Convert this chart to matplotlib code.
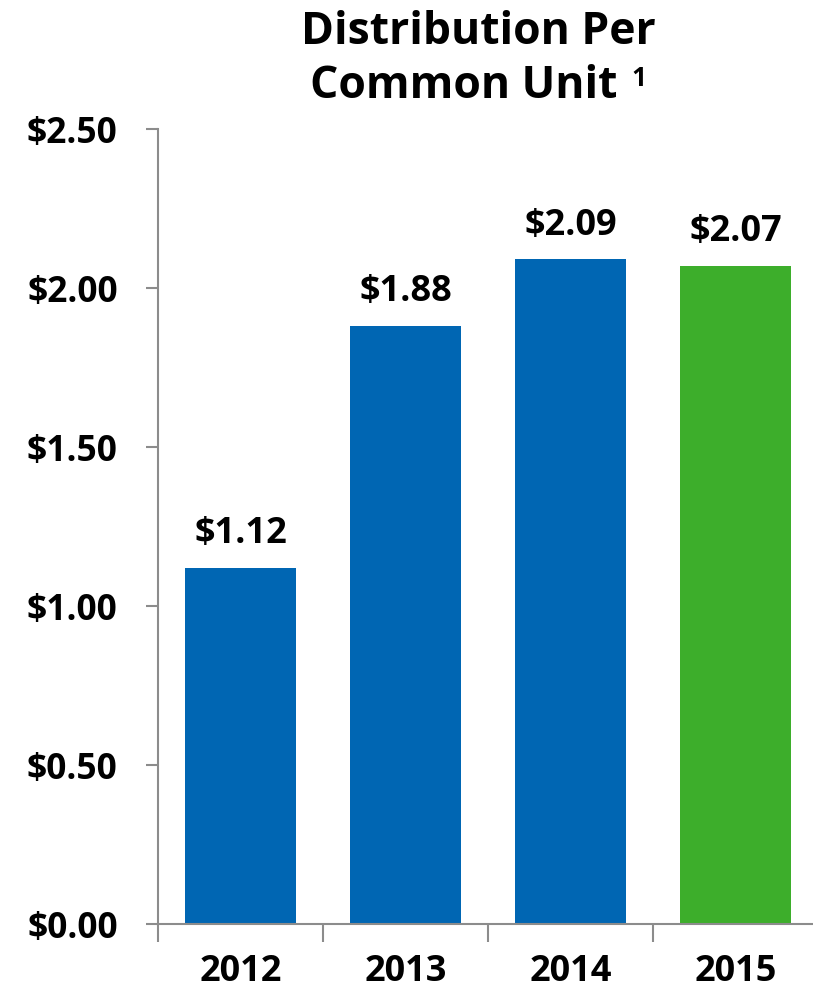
import matplotlib.pyplot as plt
import numpy as np

# datos del grafico
years = ['2012', '2013', '2014', '2015']
values = [1.12, 1.88, 2.09, 2.07]
bar_colors = ['#0066B3', '#0066B3', '#0066B3', '#3DAE2B']
y_ticks = [0.0, 0.5, 1.0, 1.5, 2.0, 2.5]

plt.rcParams['font.family'] = ['Open Sans', 'DejaVu Sans']
plt.rcParams['font.weight'] = 'bold'

W, H = 813, 995
fig = plt.figure(figsize=(W / 100, H / 100), dpi=100)
ax = fig.add_axes([158 / W, (H - 925) / H, 660 / W, 795 / H])

x = np.arange(len(years))
bars = ax.bar(x, values, width=0.667, color=bar_colors, zorder=2)

for b, v in zip(bars, values):
    ax.annotate(f'${v:.2f}', (b.get_x() + b.get_width() / 2, v),
                xytext=(0, 12), textcoords='offset points',
                ha='center', va='bottom', fontsize=26, fontweight='bold')

ax.set_xlim(-0.5, 3.5)
ax.set_ylim(0, 2.5)
ax.set_yticks(y_ticks)
ax.set_yticklabels([f'${t:.2f}' for t in y_ticks])

# marcas en los limites de categoria, etiquetas en el centro
ax.set_xticks(np.arange(-0.5, 4.0, 1.0))
ax.set_xticklabels([])
ax.set_xticks(x, minor=True)
ax.set_xticklabels(years, minor=True)

gray = '#8C8C8C'
for s in ['top', 'right']:
    ax.spines[s].set_visible(False)
for s in ['left', 'bottom']:
    ax.spines[s].set_color(gray)
    ax.spines[s].set_linewidth(1.5)

ax.tick_params(axis='y', direction='out', length=9, width=1.5, color=gray,
               labelsize=25.5, pad=20)
ax.tick_params(axis='x', which='major', direction='out', length=13, width=1.5,
               color=gray)
ax.tick_params(axis='x', which='minor', length=0, labelsize=26, pad=21)

fig.text(478 / W, 1 - 32 / H, 'Distribution Per', ha='center', va='center',
         fontsize=32, fontweight='bold')
fig.text(617 / W, 1 - 87 / H, 'Common Unit', ha='right', va='center',
         fontsize=32, fontweight='bold')
fig.text(639 / W, 1 - 78 / H, '1', ha='center', va='center',
         fontsize=19, fontweight='bold')

fig.savefig('out.png', dpi=100)
